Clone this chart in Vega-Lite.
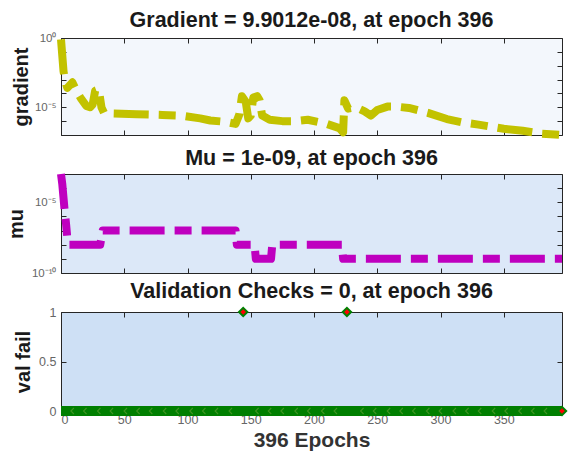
{
  "$schema": "https://vega.github.io/schema/vega-lite/v6.json",
  "background": "white",
  "padding": {"left": 5, "top": 9, "right": 10, "bottom": 2},
  "spacing": 39,
  "bounds": "flush",
  "config": {
    "font": "Liberation Sans",
    "view": {"stroke": "#262626", "strokeWidth": 1},
    "axis": {
      "grid": false, "domain": false, "tickSize": -5, "tickColor": "#262626",
      "labelFont": "Liberation Sans", "labelFontSize": 12.5, "labelColor": "#666666",
      "labelPadding": 10, "titleFont": "Liberation Sans", "titleFontSize": 20,
      "titleFontWeight": "bold", "titleColor": "#1a1a1a"
    },
    "title": {"font": "Liberation Sans", "fontSize": 21.5, "fontWeight": "bold", "color": "#1a1a1a", "baseline": "alphabetic", "offset": 1}
  },
  "datasets": {
    "grad": [
      {"epoch": 0, "gradient": 0.794},
      {"epoch": 2, "gradient": 0.00398},
      {"epoch": 3, "gradient": 0.001},
      {"epoch": 5, "gradient": 0.000251},
      {"epoch": 7, "gradient": 0.000398},
      {"epoch": 9, "gradient": 0.000631},
      {"epoch": 12, "gradient": 0.000158},
      {"epoch": 16, "gradient": 0.0000398},
      {"epoch": 20, "gradient": 0.0000126},
      {"epoch": 23, "gradient": 0.00001},
      {"epoch": 25, "gradient": 0.0000158},
      {"epoch": 27, "gradient": 0.000158},
      {"epoch": 30, "gradient": 0.0002},
      {"epoch": 31, "gradient": 0.0000398},
      {"epoch": 32, "gradient": 0.00001},
      {"epoch": 34, "gradient": 0.00000398},
      {"epoch": 40, "gradient": 0.00000355},
      {"epoch": 60, "gradient": 0.00000316},
      {"epoch": 80, "gradient": 0.00000282},
      {"epoch": 95, "gradient": 0.00000251},
      {"epoch": 110, "gradient": 0.00000158},
      {"epoch": 118, "gradient": 0.00000112},
      {"epoch": 130, "gradient": 0.000000891},
      {"epoch": 138, "gradient": 0.000000631},
      {"epoch": 141, "gradient": 0.00000316},
      {"epoch": 143, "gradient": 0.0000631},
      {"epoch": 146, "gradient": 0.0000251},
      {"epoch": 148, "gradient": 0.00000158},
      {"epoch": 150, "gradient": 0.00000251},
      {"epoch": 152, "gradient": 0.0000501},
      {"epoch": 155, "gradient": 0.0000631},
      {"epoch": 157, "gradient": 0.0000316},
      {"epoch": 159, "gradient": 0.00000251},
      {"epoch": 165, "gradient": 0.00000126},
      {"epoch": 175, "gradient": 0.000001},
      {"epoch": 185, "gradient": 0.000001},
      {"epoch": 195, "gradient": 0.00000126},
      {"epoch": 210, "gradient": 0.000000631},
      {"epoch": 220, "gradient": 0.000000316},
      {"epoch": 223, "gradient": 0.000000158},
      {"epoch": 224, "gradient": 0.0000316},
      {"epoch": 227, "gradient": 0.00000794},
      {"epoch": 233, "gradient": 0.00001},
      {"epoch": 240, "gradient": 0.00000501},
      {"epoch": 245, "gradient": 0.00000251},
      {"epoch": 250, "gradient": 0.00000631},
      {"epoch": 258, "gradient": 0.0000112},
      {"epoch": 265, "gradient": 0.0000112},
      {"epoch": 275, "gradient": 0.0000089},
      {"epoch": 290, "gradient": 0.00000398},
      {"epoch": 305, "gradient": 0.00000141},
      {"epoch": 318, "gradient": 0.000000794},
      {"epoch": 330, "gradient": 0.000000562},
      {"epoch": 350, "gradient": 0.000000282},
      {"epoch": 365, "gradient": 0.0000002},
      {"epoch": 380, "gradient": 0.000000126},
      {"epoch": 396, "gradient": 0.000000099012}
    ],
    "mu": [
      {"epoch": 0, "mu": 0.001},
      {"epoch": 1, "mu": 0.0002},
      {"epoch": 2, "mu": 0.00002},
      {"epoch": 3, "mu": 0.000002},
      {"epoch": 4, "mu": 0.0000003},
      {"epoch": 5, "mu": 0.00000003},
      {"epoch": 6, "mu": 0.00000001},
      {"epoch": 31, "mu": 0.00000001},
      {"epoch": 33, "mu": 0.0000001},
      {"epoch": 138, "mu": 0.0000001},
      {"epoch": 139, "mu": 0.00000001},
      {"epoch": 153, "mu": 0.00000001},
      {"epoch": 154, "mu": 0.000000001},
      {"epoch": 166, "mu": 0.000000001},
      {"epoch": 167, "mu": 0.00000001},
      {"epoch": 222, "mu": 0.00000001},
      {"epoch": 223, "mu": 0.000000001},
      {"epoch": 396, "mu": 0.000000001}
    ],
    "valline": [
      {"epoch": 0, "fail": 0},
      {"epoch": 396, "fail": 0}
    ],
    "valpts": [
      {"epoch": 144, "fail": 1},
      {"epoch": 226, "fail": 1},
      {"epoch": 396, "fail": 0}
    ],
    "chev": [
      {"epoch": 9, "fail": 0}, {"epoch": 19, "fail": 0}, {"epoch": 30, "fail": 0}, {"epoch": 40, "fail": 0},
      {"epoch": 51, "fail": 0}, {"epoch": 61, "fail": 0}, {"epoch": 71, "fail": 0}, {"epoch": 82, "fail": 0},
      {"epoch": 92, "fail": 0}, {"epoch": 103, "fail": 0}, {"epoch": 113, "fail": 0}, {"epoch": 123, "fail": 0},
      {"epoch": 134, "fail": 0}, {"epoch": 155, "fail": 0}, {"epoch": 165, "fail": 0},
      {"epoch": 175, "fail": 0}, {"epoch": 186, "fail": 0}, {"epoch": 196, "fail": 0}, {"epoch": 207, "fail": 0},
      {"epoch": 217, "fail": 0}, {"epoch": 238, "fail": 0}, {"epoch": 248, "fail": 0},
      {"epoch": 259, "fail": 0}, {"epoch": 269, "fail": 0}, {"epoch": 279, "fail": 0}, {"epoch": 290, "fail": 0},
      {"epoch": 300, "fail": 0}, {"epoch": 311, "fail": 0}, {"epoch": 321, "fail": 0}, {"epoch": 331, "fail": 0},
      {"epoch": 342, "fail": 0}, {"epoch": 352, "fail": 0}, {"epoch": 363, "fail": 0}, {"epoch": 373, "fail": 0},
      {"epoch": 383, "fail": 0}
    ]
  },
  "vconcat": [
    {
      "title": "Gradient = 9.9012e-08, at epoch 396",
      "width": 501, "height": 97,
      "view": {"fill": "#F3F7FC"},
      "data": {"name": "grad"},
      "resolve": {"axis": {"x": "independent", "y": "independent"}},
      "layer": [
        {
          "mark": {"type": "line", "color": "#C2C200", "strokeWidth": 8, "strokeDash": [35, 10, 17, 10], "strokeJoin": "round"},
          "encoding": {
            "x": {"field": "epoch", "type": "quantitative", "scale": {"domain": [0, 396], "nice": false, "zero": false},
                  "axis": {"values": [0, 50, 100, 150, 200, 250, 300, 350], "labels": false, "title": null}},
            "y": {"field": "gradient", "type": "quantitative", "scale": {"type": "log", "domain": [1e-7, 1], "nice": false},
                  "axis": {"values": [1, 0.1, 0.01, 0.001, 0.0001, 0.00001, 0.000001, 0.0000001], "title": "gradient", "titlePadding": 3, "labelFontSize": 11.5,
                           "labelExpr": "round(log(datum.value)/LN10) == 0 ? '10⁰' : round(log(datum.value)/LN10) == -5 ? '10⁻⁵' : ''"}}
          }
        },
        {
          "mark": {"type": "point", "opacity": 0},
          "encoding": {
            "x": {"field": "epoch", "type": "quantitative", "axis": {"orient": "top", "values": [0, 50, 100, 150, 200, 250, 300, 350], "labels": false, "title": null}},
            "y": {"field": "gradient", "type": "quantitative", "axis": {"orient": "right", "values": [1, 0.1, 0.01, 0.001, 0.0001, 0.00001, 0.000001, 0.0000001], "labels": false, "title": null}}
          }
        }
      ]
    },
    {
      "title": "Mu = 1e-09, at epoch 396",
      "width": 501, "height": 99,
      "view": {"fill": "#DCE8F8"},
      "data": {"name": "mu"},
      "resolve": {"axis": {"x": "independent", "y": "independent"}},
      "layer": [
        {
          "mark": {"type": "line", "color": "#BF00BF", "strokeWidth": 8, "strokeDash": [35, 10, 17, 10], "strokeJoin": "round"},
          "encoding": {
            "x": {"field": "epoch", "type": "quantitative", "scale": {"domain": [0, 396], "nice": false, "zero": false},
                  "axis": {"values": [0, 50, 100, 150, 200, 250, 300, 350], "labels": false, "title": null}},
            "y": {"field": "mu", "type": "quantitative", "scale": {"type": "log", "domain": [1e-10, 1e-3], "nice": false},
                  "axis": {"values": [0.001, 0.0001, 0.00001, 0.000001, 0.0000001, 0.00000001, 0.000000001, 0.0000000001], "title": "mu", "titlePadding": 5, "labelFontSize": 11.5,
                           "labelExpr": "round(log(datum.value)/LN10) == -5 ? '10⁻⁵' : round(log(datum.value)/LN10) == -10 ? '10⁻¹⁰' : ''"}}
          }
        },
        {
          "mark": {"type": "point", "opacity": 0},
          "encoding": {
            "x": {"field": "epoch", "type": "quantitative", "axis": {"orient": "top", "values": [0, 50, 100, 150, 200, 250, 300, 350], "labels": false, "title": null}},
            "y": {"field": "mu", "type": "quantitative", "axis": {"orient": "right", "values": [0.001, 0.0001, 0.00001, 0.000001, 0.0000001, 0.00000001, 0.000000001, 0.0000000001], "labels": false, "title": null}}
          }
        }
      ]
    },
    {
      "title": "Validation Checks = 0, at epoch 396",
      "width": 501, "height": 99,
      "view": {"fill": "#CEE0F5"},
      "resolve": {"axis": {"x": "independent", "y": "independent"}},
      "layer": [
        {
          "data": {"name": "valline"},
          "mark": {"type": "line", "color": "#007F00", "strokeWidth": 10},
          "encoding": {
            "x": {"field": "epoch", "type": "quantitative", "scale": {"domain": [0, 396], "nice": false, "zero": false},
                  "axis": {"values": [0, 50, 100, 150, 200, 250, 300, 350], "title": "396 Epochs", "titleFontSize": 21, "titleColor": "#333333", "labelPadding": 7, "titlePadding": 4}},
            "y": {"field": "fail", "type": "quantitative", "scale": {"domain": [0, 1], "nice": false},
                  "axis": {"values": [0, 0.5, 1], "format": "~g", "title": "val fail", "titlePadding": 5}}
          }
        },
        {
          "data": {"name": "valline"},
          "mark": {"type": "point", "opacity": 0},
          "encoding": {
            "x": {"field": "epoch", "type": "quantitative", "axis": {"orient": "top", "values": [0, 50, 100, 150, 200, 250, 300, 350], "labels": false, "title": null}},
            "y": {"field": "fail", "type": "quantitative", "axis": {"orient": "right", "values": [0, 0.5, 1], "labels": false, "title": null}}
          }
        },
        {
          "data": {"name": "chev"},
          "mark": {"type": "point", "shape": "M0.5,-1L-0.5,0L0.5,1", "filled": false, "color": "#5A9E30", "strokeWidth": 1.1, "size": 36},
          "encoding": {
            "x": {"field": "epoch", "type": "quantitative", "axis": null},
            "y": {"field": "fail", "type": "quantitative", "axis": null}
          }
        },
        {
          "data": {"name": "valpts"},
          "mark": {"type": "point", "shape": "diamond", "filled": true, "fill": "#FF0000", "stroke": "#008000", "strokeWidth": 2, "size": 70, "opacity": 1},
          "encoding": {
            "x": {"field": "epoch", "type": "quantitative", "axis": null},
            "y": {"field": "fail", "type": "quantitative", "axis": null}
          }
        }
      ]
    }
  ]
}
